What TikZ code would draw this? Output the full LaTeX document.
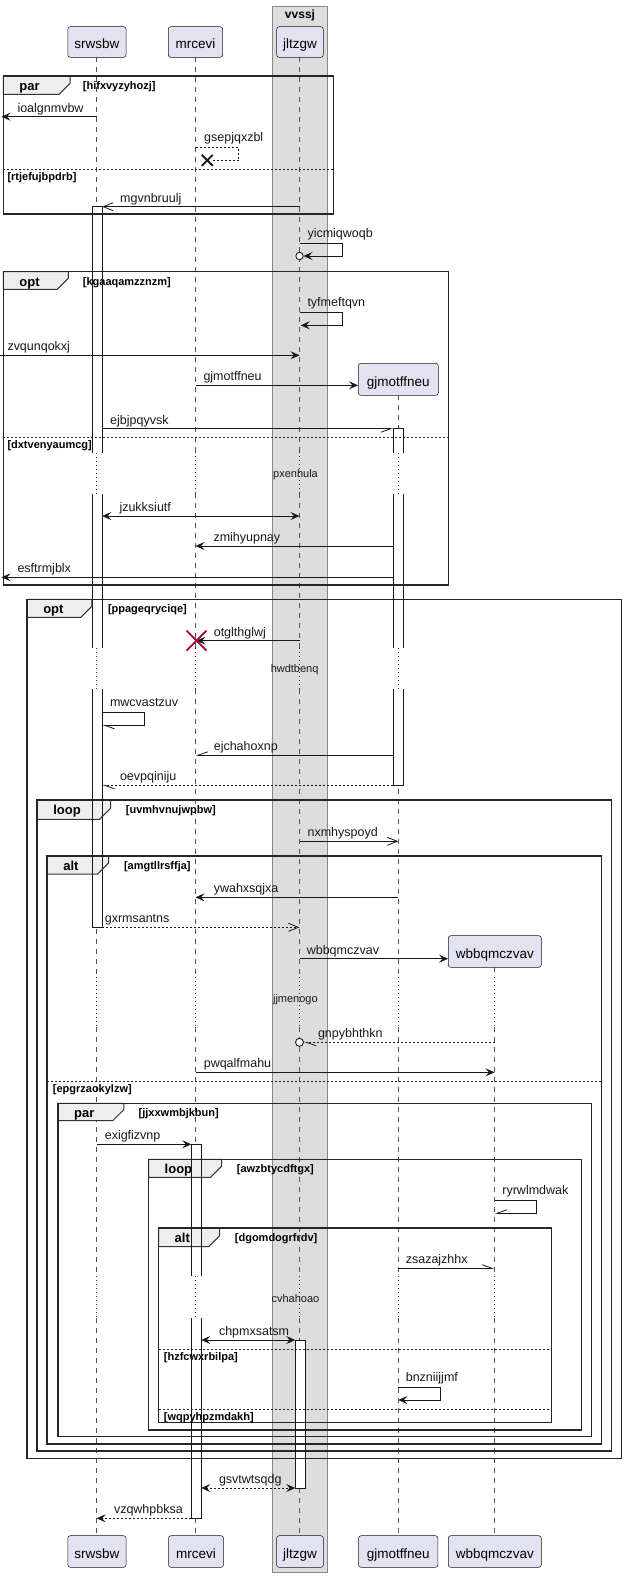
\documentclass[tikz,border=0pt]{standalone}
\usepackage{fontspec}
\setmainfont{Liberation Sans}
\usetikzlibrary{arrows.meta}
\definecolor{ink}{HTML}{181818}
\definecolor{pbox}{HTML}{E2E2F0}
\definecolor{bandfill}{HTML}{DDDDDD}
\definecolor{bandline}{HTML}{888888}
\definecolor{tabfill}{HTML}{EEEEEE}
\definecolor{crim}{HTML}{A80036}
\def\xS{96.7}\def\xM{195.5}\def\xJ{299.5}\def\xG{398.3}\def\xW{494.5}
\tikzset{
  pfill/.tip={Stealth[length=9pt,width=8pt,inset=3.5pt]},
  popen/.tip={Straight Barb[length=10pt,width=8pt]},
  phl/.tip={Straight Barb[length=10pt,width=7pt,left]},
  phr/.tip={Straight Barb[length=10pt,width=7pt,right]},
}
\begin{document}
\begin{tikzpicture}[x=1pt,y=-1pt,
  msg/.style={draw=ink,line width=0.8pt},
  dmsg/.style={msg,dash pattern=on 2pt off 2pt},
  lbl/.style={font=\fontsize{12.5}{15}\selectfont,anchor=base west,inner sep=0pt,text=ink},
  cond/.style={font=\bfseries\fontsize{11}{13}\selectfont,anchor=base west,inner sep=0pt},
  kw/.style={font=\bfseries\fontsize{13}{15}\selectfont,anchor=base west,inner sep=0pt},
  dly/.style={font=\fontsize{11}{13}\selectfont,inner sep=0pt,text=ink},
  pbx/.style={draw=ink,fill=pbox,line width=0.5pt,rounded corners=2.5pt,inner sep=0pt,
     font=\fontsize{13.5}{16}\selectfont,text height=13.4pt,text depth=0pt},
  life/.style={draw=ink!75,line width=0.6pt,dash pattern=on 5pt off 5pt},
  dlife/.style={draw=crim,line width=0.8pt,dash pattern=on 1pt off 3pt},
  frm/.style={draw=black!85,line width=1.5pt},
  tabs/.style={draw=black!80,fill=tabfill,line width=1pt},
  sep/.style={draw=black!85,line width=0.8pt,dash pattern=on 2pt off 2pt},
  actf/.style={fill=white},
  acts/.style={draw=ink,line width=0.8pt},
]
\useasboundingbox (0,0) rectangle (626,1577);
% band
\draw[fill=bandfill,draw=bandline,line width=0.8pt] (272.5,6) rectangle (327.3,1572);
\node[font=\bfseries\fontsize{12}{14}\selectfont,anchor=base,inner sep=0pt] (bandtitle) at (300,18.5) {vvssj};
% lifelines
\foreach \lx in {\xS,\xM,\xJ}{\draw[life] (\lx,57.3) -- (\lx,451.7);}
\draw[life] (\xG,395.3) -- (\xG,451.7);
\foreach \lx in {\xS,\xM,\xJ,\xG}{
  \draw[dlife] (\lx,451.7) -- (\lx,493.3);
  \draw[life] (\lx,493.3) -- (\lx,648.3);
  \draw[dlife] (\lx,648.3) -- (\lx,689);
  \draw[life] (\lx,689) -- (\lx,976.7);}
\draw[life] (\xW,967.3) -- (\xW,976.7);
\foreach \lx in {\xS,\xM,\xJ,\xG,\xW}{
  \draw[dlife] (\lx,976.7) -- (\lx,1026.7);
  \draw[life] (\lx,1026.7) -- (\lx,1276);
  \draw[dlife] (\lx,1276) -- (\lx,1318.3);
  \draw[life] (\lx,1318.3) -- (\lx,1535.7);}
% participants
\node[pbx,minimum width=58.3pt,minimum height=30.6pt] (pS) at (96.9,42) {srwsbw};
\node[pbx,minimum width=54.4pt,minimum height=30.6pt] (pM) at (195.5,42) {mrcevi};
\node[pbx,minimum width=46.6pt,minimum height=30.6pt] (pJ) at (300,42) {jltzgw};
\node[pbx,minimum width=80pt,minimum height=32pt] (pG) at (398.3,379.3) {gjmotffneu};
\node[pbx,minimum width=93pt,minimum height=31.6pt] (pW) at (494.8,951.5) {wbbqmczvav};
\node[pbx,minimum width=58.3pt,minimum height=31.6pt] (bS) at (96.9,1551.5) {srwsbw};
\node[pbx,minimum width=55pt,minimum height=31.6pt] (bM) at (196,1551.5) {mrcevi};
\node[pbx,minimum width=46.8pt,minimum height=31.6pt] (bJ) at (300,1551.5) {jltzgw};
\node[pbx,minimum width=79.4pt,minimum height=31.6pt] (bG) at (398.2,1551.5) {gjmotffneu};
\node[pbx,minimum width=93pt,minimum height=31.6pt] (bW) at (494.8,1551.5) {wbbqmczvav};
% activation fills
\fill[actf] (92.2,206.7) rectangle (102.2,927.3);
\fill[actf] (393.3,428.7) rectangle (403.3,785.3);
\fill[actf] (191.3,1144.3) rectangle (201.3,1518.3);
\fill[actf] (295.2,1340) rectangle (305.2,1488);
\foreach \lx in {\xS,\xG}{\draw[dlife] (\lx,452.7) -- (\lx,494);\draw[dlife] (\lx,648.3) -- (\lx,689);}
\draw[dlife] (\xM,1276) -- (\xM,1318.3);
% frames
\newcommand\grpfrm[9]{%
  \draw[frm] (#1,#2) rectangle (#3,#4);
  \draw[tabs] (#1,#2) -- (#5,#2) -- (#5,#6-11) -- (#5-11,#6) -- (#1,#6) -- cycle;
  \draw[frm] (#1,#2) rectangle (#3,#4);
  \node[kw] at (#1+16,#2+14.3) {#7};
  \node[cond] at (#8,#2+13.3) {#9};}
\grpfrm{3.3}{76}{333.3}{214}{70}{94.3}{par}{82.7}{[hifxvyzyhozj]}
\draw[sep] (3.3,169.3) -- (333.3,169.3);
\node[cond] at (7.3,180) {[rtjefujbpdrb]};
\grpfrm{3.3}{271.7}{448.3}{585}{68.3}{289.3}{opt}{82.7}{[kgaaqamzznzm]}
\draw[sep] (3.3,437.3) -- (448.3,437.3);
\node[cond] at (7.3,448) {[dxtvenyaumcg]};
\grpfrm{27.1}{599.3}{621.7}{1458.3}{91.8}{617.3}{opt}{107.8}{[ppageqryciqe]}
\grpfrm{37.1}{800}{611.7}{1451}{110.6}{819.3}{loop}{125.7}{[uvmhvnujwpbw]}
\grpfrm{47.1}{856}{601.7}{1444}{108.6}{874}{alt}{123.8}{[amgtllrsffja]}
\draw[sep] (47.1,1081.3) -- (601.7,1081.3);
\node[cond] at (52.7,1092) {[epgrzaokylzw]};
\grpfrm{57.9}{1103.3}{591.7}{1436.7}{123.8}{1120.7}{par}{138.5}{[jjxxwmbjkbun]}
\grpfrm{148.5}{1159.3}{581.7}{1430}{221.6}{1177.3}{loop}{236.7}{[awzbtycdftgx]}
\grpfrm{158.5}{1228}{551.7}{1422.7}{219.6}{1246.7}{alt}{234.7}{[dgomdogrfrdv]}
\draw[sep] (158.5,1349.3) -- (551.7,1349.3);
\node[cond] at (163.7,1360) {[hzfcwxrbilpa]};
\draw[sep] (158.5,1409.3) -- (551.7,1409.3);
\node[cond] at (163.7,1420) {[wqpyhpzmdakh]};
% activation outlines
\draw[acts] (92.2,452.7) -- (92.2,206.7) -- (102.2,206.7) -- (102.2,452.7);
\draw[acts] (92.2,494) -- (92.2,648.3) (102.2,494) -- (102.2,648.3);
\draw[acts] (92.2,689) -- (92.2,927.3) -- (102.2,927.3) -- (102.2,689);
\draw[acts] (393.3,452.7) -- (393.3,428.7) -- (403.3,428.7) -- (403.3,452.7);
\draw[acts] (393.3,494) -- (393.3,648.3) (403.3,494) -- (403.3,648.3);
\draw[acts] (393.3,689) -- (393.3,785.3) -- (403.3,785.3) -- (403.3,689);
\draw[acts] (191.3,1276) -- (191.3,1144.3) -- (201.3,1144.3) -- (201.3,1276);
\draw[acts] (191.3,1318.3) -- (191.3,1518.3) -- (201.3,1518.3) -- (201.3,1318.3);
\draw[acts] (295.2,1340) rectangle (305.2,1488);
% messages
\draw[msg,-{pfill}] (\xS,116.7) -- (1.5,116.7);
\node[lbl] (m1) at (17.3,112) {ioalgnmvbw};
\draw[dmsg] (\xM,147.7) -- (238.7,147.7) -- (238.7,160.3) -- (212.5,160.3);
\draw[ink,line width=1.8pt] (201.8,154.8) -- (212.8,165.8) (201.8,165.8) -- (212.8,154.8);
\node[lbl] (m2) at (204,141.7) {gsepjqxzbl};
\draw[msg,-{popen}] (\xJ,206.7) -- (102.2,206.7);
\node[lbl] (m3) at (120,202) {mgvnbruulj};
\draw[msg,-{pfill}] (\xJ,243.3) -- (342.7,243.3) -- (342.7,256) -- (303.5,256);
\draw[ink,fill=white,line width=0.9pt] (\xJ,256) circle[radius=3.7pt];
\node[lbl] (m4) at (307.3,237.5) {yicmiqwoqb};
\draw[msg,-{pfill}] (\xJ,312.7) -- (342.7,312.7) -- (342.7,325.3) -- (300.7,325.3);
\node[lbl] (m5) at (307.3,306.7) {tyfmeftqvn};
\draw[msg,-{pfill}] (0,355.3) -- (\xJ,355.3);
\node[lbl] (m6) at (7.3,350.6) {zvqunqokxj};
\draw[msg,-{pfill}] (\xM,385.3) -- (pG.west |- 0,385.3);
\node[lbl] (m7) at (203.3,380.6) {gjmotffneu};
\draw[msg,-{phr}] (102.2,428.7) -- (393.3,428.7);
\node[lbl] (m8) at (110,424) {ejbjpqyvsk};
\draw[msg,{pfill}-{pfill}] (102.2,516) -- (\xJ,516);
\node[lbl] (m9) at (119.3,511.3) {jzukksiutf};
\draw[msg,-{pfill}] (393.3,546) -- (\xM,546);
\node[lbl] (m10) at (213.3,541.3) {zmihyupnay};
\draw[msg,-{pfill}] (393.3,577.3) -- (1.5,577.3);
\node[lbl] (m11) at (17.3,572.6) {esftrmjblx};
\draw[msg,-{pfill}] (\xJ,640.7) -- (196.5,640.7);
\draw[crim,line width=1.8pt] (186.5,630.7) -- (206.5,650.7) (186.5,650.7) -- (206.5,630.7);
\node[lbl] (m12) at (213.6,636) {otglthglwj};
\draw[msg,-{phl}] (102.2,712.7) -- (144.5,712.7) -- (144.5,725.3) -- (102.2,725.3);
\node[lbl] (m13) at (109.8,706.7) {mwcvastzuv};
\draw[msg,-{phr}] (393.3,755.3) -- (\xM,755.3);
\node[lbl] (m14) at (213.6,750.6) {ejchahoxnp};
\draw[dmsg,-{phl}] (393.3,785.3) -- (102.2,785.3);
\node[lbl] (m15) at (119.8,780.6) {oevpqiniju};
\draw[msg,-{popen}] (\xJ,841.3) -- (\xG,841.3);
\node[lbl] (m16) at (307.4,836.6) {nxmhyspoyd};
\draw[msg,-{pfill}] (\xG,897.3) -- (\xM,897.3);
\node[lbl] (m17) at (213.6,892.6) {ywahxsqjxa};
\draw[dmsg,-{popen}] (102.2,927.3) -- (\xJ,927.3);
\node[lbl] (m18) at (104.6,922.6) {gxrmsantns};
\draw[msg,-{pfill}] (\xJ,958.7) -- (pW.west |- 0,958.7);
\node[lbl] (m19) at (306.6,954) {wbbqmczvav};
\draw[dmsg,-{phl}] (\xW,1042.3) -- (304,1042.3);
\draw[ink,fill=white,line width=0.9pt] (\xJ,1042.3) circle[radius=4pt];
\node[lbl] (m20) at (317.8,1037.6) {gnpybhthkn};
\draw[msg,-{pfill}] (\xM,1072.3) -- (\xW,1072.3);
\node[lbl] (m21) at (203.6,1067.6) {pwqalfmahu};
\draw[msg,-{pfill}] (\xS,1144.3) -- (191.3,1144.3);
\node[lbl] (m22) at (104.6,1139.6) {exigfizvnp};
\draw[msg,-{phr}] (\xW,1200.7) -- (536.5,1200.7) -- (536.5,1213.3) -- (\xW,1213.3);
\node[lbl] (m23) at (502.2,1194.7) {ryrwlmdwak};
\draw[msg,-{phl}] (\xG,1268.3) -- (\xW,1268.3);
\node[lbl] (m24) at (405.6,1263.6) {zsazajzhhx};
\draw[msg,{pfill}-{pfill}] (201.3,1340) -- (295.2,1340);
\node[lbl] (m25) at (218.8,1335.3) {chpmxsatsm};
\draw[msg,-{pfill}] (\xG,1387.7) -- (440.7,1387.7) -- (440.7,1400) -- (\xG,1400);
\node[lbl] (m26) at (405.6,1381.7) {bnzniijjmf};
\draw[dmsg,{pfill}-{pfill}] (201.3,1488) -- (295.2,1488);
\node[lbl] (m27) at (218.8,1483.3) {gsvtwtsqdg};
\draw[dmsg,-{pfill}] (191.3,1518.3) -- (\xS,1518.3);
\node[lbl] (m28) at (113.8,1513.6) {vzqwhpbksa};
% delays
\node[dly] (d1) at (295.5,474.3) {pxenhula};
\node[dly] (d2) at (294.6,669.3) {hwdtbenq};
\node[dly] (d3) at (295.4,1000) {jjmenogo};
\node[dly] (d4) at (295.4,1298.3) {cvhahoao};
\end{tikzpicture}
\end{document}
